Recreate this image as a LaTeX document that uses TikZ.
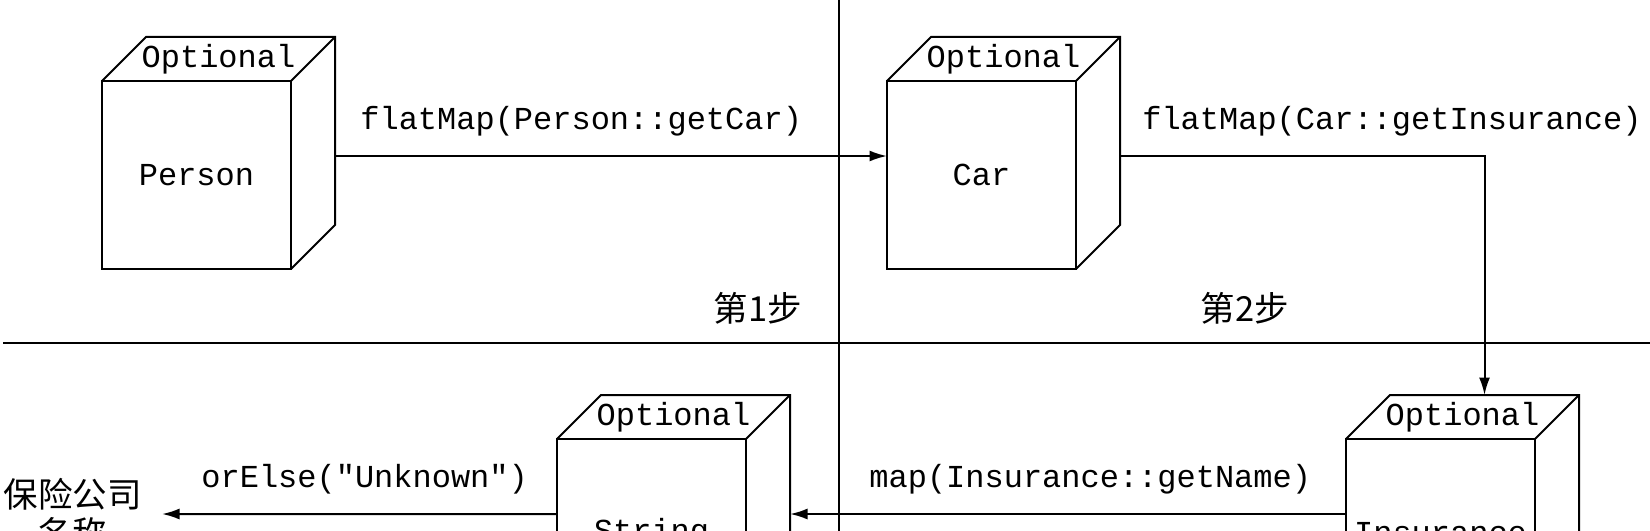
\documentclass[tikz,border=0pt]{standalone}
\usepackage{fontspec}
\setmonofont{Liberation Mono}
\newfontfamily\cjk{Noto Sans CJK SC}
\usetikzlibrary{arrows.meta, positioning, calc}
\newcommand{\codefont}{\fontsize{12.8}{15}\ttfamily}
\newcommand{\cjkfont}{\fontsize{13.8}{15.6}\cjk}
\newcommand{\cubedepth}{17.6pt}
\tikzset{
  optbox/.style={draw,line width=.8pt,minimum width=75.6pt,minimum height=75.2pt,inner sep=0pt,outer sep=0pt,font=\codefont},
  cubeline/.style={line width=.8pt},
  code/.style={font=\codefont,inner sep=0pt},
  flow/.style={line width=.8pt,-{Latex[length=7pt,width=4.4pt]}},
  stage/.style={font=\cjkfont,inner sep=0pt},
  divider/.style={line width=.8pt},
}
% top and side faces of a box, with its label
\newcommand{\optcube}[1]{%
  \draw[cubeline] (#1.north west) -- ++(\cubedepth,\cubedepth) -- ($(#1.north east)+(\cubedepth,\cubedepth)$)
    -- ($(#1.south east)+(\cubedepth,\cubedepth)$) -- (#1.south east);
  \draw[cubeline] (#1.north east) -- ++(\cubedepth,\cubedepth);
  \node[code] at ($(#1.north)+(\cubedepth/2,\cubedepth/2)$) {Optional};
}

\begin{document}
\begin{tikzpicture}[x=1pt,y=1pt]
	    \useasboundingbox (0,0) rectangle (660,212);
	    \clip (0,0) rectangle (660,212);
	    \draw[divider] (1.2,74.8) -- (660,74.8);
	    \draw[divider] (335.6,215) -- (335.6,-5);
	    \node[optbox] (A) at (78.6,142) {Person};
	    \node[optbox,right=238.4pt of A] (B) {Car};
	    \node[optbox] (C) at (576.2,-1.2) {Insurance};
	    \node[optbox] (D) at (260.6,-1.2) {String};
	    \optcube{A}
	    \optcube{B}
	    \optcube{C}
	    \optcube{D}
	    \node[stage] (S1) at (303.2,88.8) {第1步};
	    \node[stage] (S2) at (498,88.8) {第2步};
	    \node[stage,align=center] (E) at (29,6.4) {保险公司\\名称};
	    \draw[flow] ([xshift=\cubedepth,yshift=7.6pt]A.east) -- ([yshift=7.6pt]B.west)
	    	node[code,pos=.446,yshift=14pt] {flatMap(Person::getCar)};
	    \draw[flow] ([xshift=\cubedepth,yshift=7.6pt]B.east) -| ($(C.north)+(\cubedepth,\cubedepth)$)
	    	node[code,pos=.373,yshift=14pt] {flatMap(Car::getInsurance)};
	    \draw[flow] ([yshift=7.6pt]C.west) -- ([xshift=\cubedepth,yshift=7.6pt]D.east)
	    	node[code,pos=.46,yshift=14pt] {map(Insurance::getName)};
	    \draw[flow] ([yshift=7.6pt]D.west) -- ([xshift=8pt]E.east)
	    	node[code,pos=.487,yshift=14pt] {orElse("Unknown")};
	\end{tikzpicture}
\end{document}
